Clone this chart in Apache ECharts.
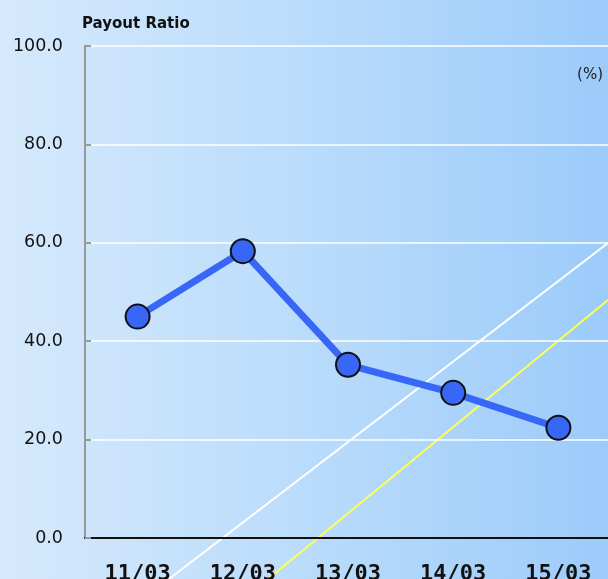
<!DOCTYPE html>
<html>
<head>
<meta charset="utf-8">
<script src="https://cdn.jsdelivr.net/npm/echarts@6/dist/echarts.min.js"></script>
<style>
  html, body { margin: 0; padding: 0; }
  #chart { width: 608px; height: 579px; }
</style>
</head>
<body>
<div id="chart"></div>
<script>
// fiscal year ends
const categories = ["11/03", "12/03", "13/03", "14/03", "15/03"];
// payout ratio (%)
const payoutRatio = [45.0, 58.3, 35.2, 29.5, 22.4];
const yTicks = { min: 0, max: 100, interval: 20 };

const chart = echarts.init(document.getElementById("chart"));

const option = {
  animation: false,
  backgroundColor: new echarts.graphic.LinearGradient(0, 0, 1, 0, [
    { offset: 0, color: "#d6e9fc" },
    { offset: 0.5, color: "#badcfb" },
    { offset: 1, color: "#9ccbfa" },
  ]),
  title: [
    {
      text: "Payout Ratio",
      left: 77,
      top: 12,
      textStyle: {
        fontFamily: "DejaVu Sans",
        fontSize: 15,
        fontWeight: "bold",
        color: "#111",
      },
    },
    {
      text: "(%)",
      right: 0,
      top: 63,
      textStyle: {
        fontFamily: "DejaVu Sans",
        fontSize: 15,
        fontWeight: "normal",
        color: "#222",
      },
    },
  ],
  grid: {
    left: 85,
    top: 46,
    width: 526,
    bottom: 41,
    outerBoundsMode: "none",
    containLabel: false,
  },
  // decorative diagonal stripes
  graphic: [
    {
      type: "line",
      z: 0,
      silent: true,
      shape: { x1: 169, y1: 579, x2: 608, y2: 243 },
      style: { stroke: "#ffffff", lineWidth: 2 },
    },
    {
      type: "line",
      z: 0,
      silent: true,
      shape: { x1: 268, y1: 579, x2: 608, y2: 300 },
      style: { stroke: "#ffff55", lineWidth: 2 },
    },
  ],
  xAxis: {
    type: "category",
    data: categories,
    boundaryGap: true,
    axisLine: { lineStyle: { color: "#111", width: 2 } },
    axisTick: {
      inside: true,
      length: 6,
      lineStyle: { color: "#111", width: 2 },
    },
    axisLabel: {
      margin: 25,
      fontFamily: "DejaVu Sans Mono",
      fontWeight: "bold",
      fontSize: 22,
      color: "#111",
    },
    splitLine: { show: false },
  },
  yAxis: {
    type: "value",
    min: yTicks.min,
    max: yTicks.max,
    interval: yTicks.interval,
    axisLine: { show: true, lineStyle: { color: "#999", width: 2 } },
    axisTick: {
      show: true,
      inside: true,
      length: 6,
      lineStyle: { color: "#999", width: 2 },
    },
    axisLabel: {
      margin: 22,
      fontFamily: "DejaVu Sans",
      fontSize: 17.5,
      color: "#111",
      formatter: (v) => v.toFixed(1),
    },
    splitLine: { lineStyle: { color: "#ffffff", width: 1.5 } },
  },
  series: [
    {
      type: "line",
      data: payoutRatio,
      symbol: "circle",
      symbolSize: 24,
      lineStyle: { color: "#3867f8", width: 7 },
      itemStyle: { color: "#3867f8", borderColor: "#111", borderWidth: 2 },
      z: 5,
    },
  ],
};

chart.setOption(option);
</script>
</body>
</html>
